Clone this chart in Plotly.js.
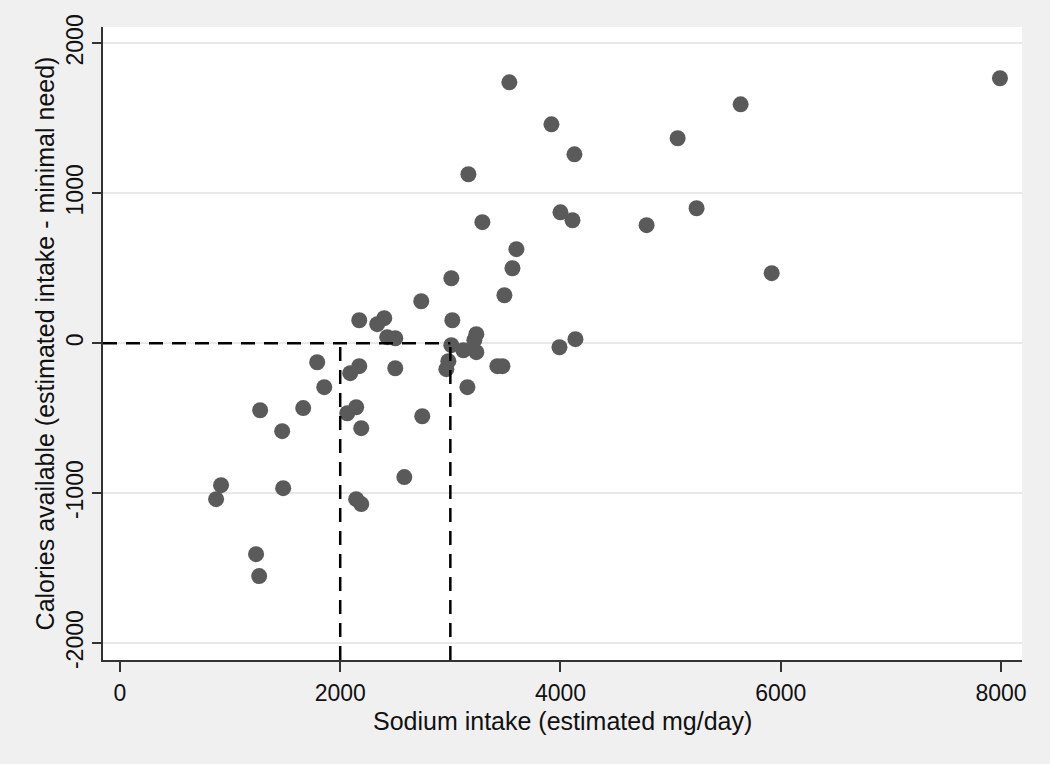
<!DOCTYPE html>
<html>
<head>
<meta charset="utf-8">
<script src="https://cdn.plot.ly/plotly-3.0.1.min.js"></script>
<style>
  html, body { margin: 0; padding: 0; background: #f0f0f0; }
  #chart { width: 1050px; height: 764px; }
</style>
</head>
<body>
<div id="chart"></div>
<script>
// Sodium intake (estimated mg/day)
const sodium = [
  873, 918, 1236, 1264, 1273, 1473, 1482, 1664, 1791, 1855,
  2064, 2091, 2145, 2145, 2173, 2173, 2191, 2191, 2336, 2400,
  2427, 2500, 2500, 2582, 2736, 2745, 2964, 2982, 3009, 3009,
  3018, 3118, 3155, 3164, 3218, 3236, 3236, 3291, 3427, 3473,
  3491, 3536, 3564, 3600, 3918, 3991, 4000, 4109, 4127, 4136,
  4782, 5064, 5236, 5636, 5918, 7991
];
// Calories available (estimated intake - minimal need)
const calories = [
  -1040, -947, -1407, -1553, -447, -587, -967, -433, -127, -293,
  -467, -200, -427, -1040, 153, -153, -567, -1073, 127, 167,
  40, 33, -167, -893, 280, -487, -173, -120, 433, -13,
  153, -47, -293, 1127, 20, 60, -60, 807, -153, -153,
  320, 1740, 500, 627, 1460, -27, 873, 820, 1260, 27,
  787, 1367, 900, 1593, 467, 1767
];
// Reference thresholds
const sodiumRefs = [2000, 3000];
const caloriesRef = 0;

const xTicks = [0, 2000, 4000, 6000, 8000];
const yTicks = [-2000, -1000, 0, 1000, 2000];
const xRange = [-154, 8191];
const yRange = [-2113, 2109];

const xTitle = 'Sodium intake (estimated mg/day)';
const yTitle = 'Calories available (estimated intake - minimal need)';

const dashStyle = { color: '#000000', width: 2.5, dash: '14px,9px' };
const shapes = [{
  type: 'line', xref: 'x', yref: 'y',
  x0: xRange[0], x1: Math.max(...sodiumRefs), y0: caloriesRef, y1: caloriesRef,
  line: dashStyle
}];
sodiumRefs.forEach(v => shapes.push({
  type: 'line', xref: 'x', yref: 'y',
  x0: v, x1: v, y0: yRange[0], y1: caloriesRef,
  line: dashStyle
}));

const trace = {
  type: 'scatter', mode: 'markers',
  x: sodium, y: calories,
  marker: { size: 16, color: '#5a5a5a', line: { width: 0 } },
  hoverinfo: 'x+y'
};

const font = { family: 'Liberation Sans, Arial, sans-serif', color: '#111111' };

const layout = {
  width: 1050, height: 764,
  paper_bgcolor: '#f0f0f0',
  plot_bgcolor: '#ffffff',
  margin: { l: 103, r: 28, t: 27, b: 104 },
  showlegend: false,
  font: font,
  xaxis: {
    range: xRange, tickvals: xTicks, ticktext: xTicks.map(String),
    showgrid: false, zeroline: false,
    showline: true, linecolor: '#333333', linewidth: 2,
    ticks: 'outside', ticklen: 10, tickwidth: 2, tickcolor: '#333333',
    tickfont: { size: 23, family: font.family, color: '#111111' },
    ticklabelstandoff: 1
  },
  yaxis: {
    range: yRange, tickvals: yTicks, ticktext: yTicks.map(String),
    showgrid: true, gridcolor: '#e8e8e8', gridwidth: 2,
    zeroline: false,
    showline: true, linecolor: '#333333', linewidth: 2,
    ticks: 'outside', ticklen: 9, tickwidth: 2, tickcolor: '#333333',
    tickangle: -90,
    tickfont: { size: 23, family: font.family, color: '#111111' },
    ticklabelstandoff: 0,
    title: { text: yTitle, font: { size: 25, family: font.family, color: '#111111' }, standoff: 0 }
  },
  annotations: [{
    text: xTitle, xref: 'paper', yref: 'paper',
    x: 0.5, y: -0.096, xanchor: 'center', yanchor: 'middle',
    showarrow: false,
    font: { size: 25, family: font.family, color: '#111111' }
  }],
  shapes: shapes
};

Plotly.newPlot('chart', [trace], layout, { displayModeBar: false, staticPlot: true });
</script>
</body>
</html>
